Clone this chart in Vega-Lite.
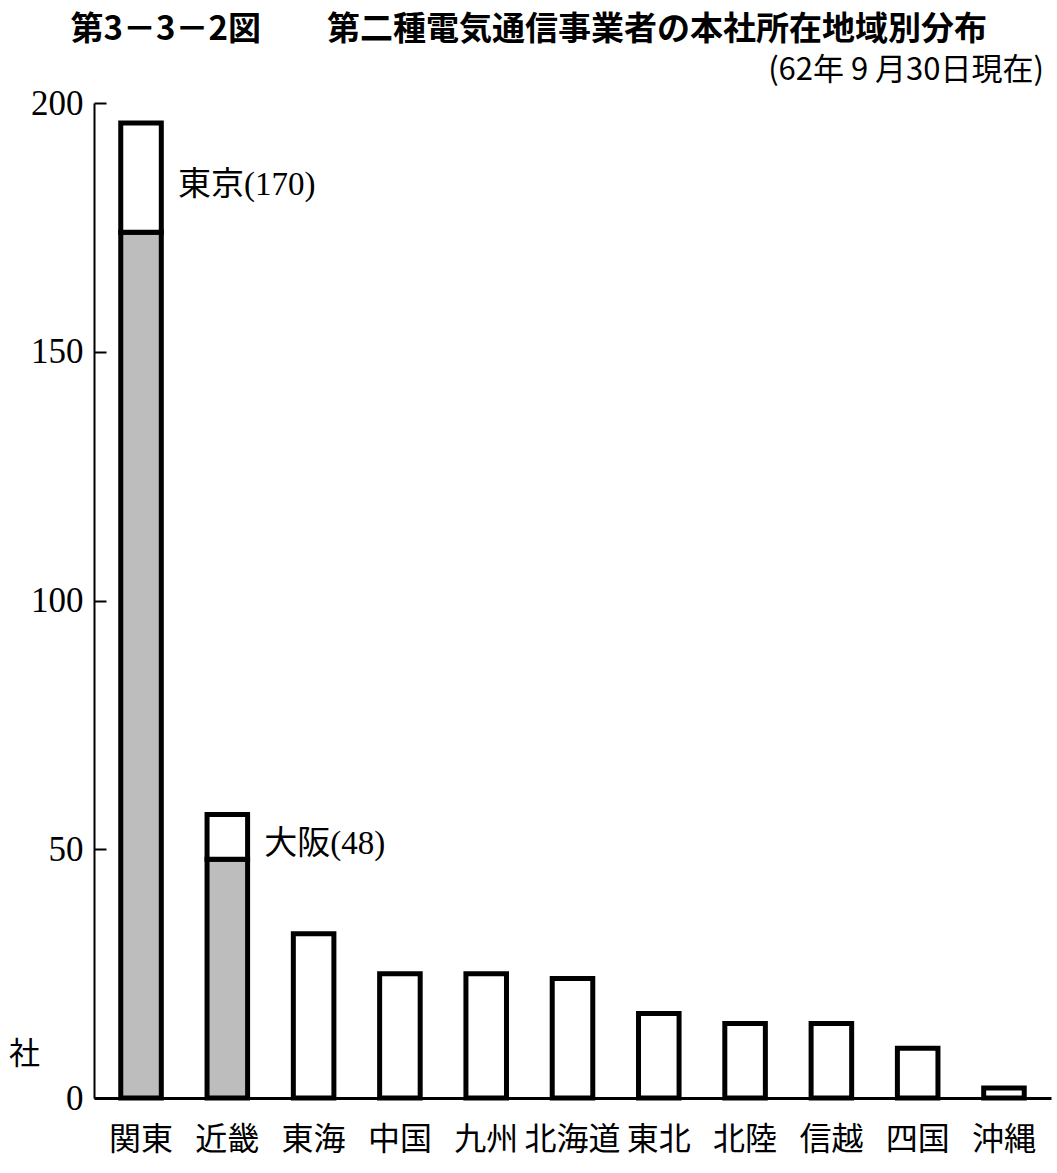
{
  "$schema": "https://vega.github.io/schema/vega-lite/v6.json",
  "width": 957,
  "height": 995,
  "autosize": {"type": "none"},
  "padding": {"left": 94, "top": 103, "right": 6, "bottom": 75},
  "background": "white",
  "title": {
    "text": "第3－3－2図　　第二種電気通信事業者の本社所在地域別分布　\u2002 \u2060",
    "subtitle": "(62年 9 月30日現在)",
    "anchor": "end",
    "frame": "group",
    "dx": -7,
    "offset": 0,
    "font": "Noto Sans CJK JP",
    "fontSize": 33,
    "fontWeight": "bold",
    "color": "black",
    "subtitleFont": "Noto Sans CJK JP",
    "subtitleFontSize": 31,
    "subtitleColor": "black",
    "subtitlePadding": 9
  },
  "data": {
    "values": [
      {"地域": "関東", "区分": "主要都市", "社数": 174, "注記": ""},
      {"地域": "関東", "区分": "その他", "社数": 22, "注記": "東京(170)"},
      {"地域": "近畿", "区分": "主要都市", "社数": 48, "注記": ""},
      {"地域": "近畿", "区分": "その他", "社数": 9, "注記": "大阪(48)"},
      {"地域": "東海", "区分": "その他", "社数": 33, "注記": ""},
      {"地域": "中国", "区分": "その他", "社数": 25, "注記": ""},
      {"地域": "九州", "区分": "その他", "社数": 25, "注記": ""},
      {"地域": "北海道", "区分": "その他", "社数": 24, "注記": ""},
      {"地域": "東北", "区分": "その他", "社数": 17, "注記": ""},
      {"地域": "北陸", "区分": "その他", "社数": 15, "注記": ""},
      {"地域": "信越", "区分": "その他", "社数": 15, "注記": ""},
      {"地域": "四国", "区分": "その他", "社数": 10, "注記": ""},
      {"地域": "沖縄", "区分": "その他", "社数": 2, "注記": ""}
    ]
  },
  "encoding": {
    "x": {
      "field": "地域",
      "type": "nominal",
      "sort": null,
      "scale": {"paddingInner": 0.53, "paddingOuter": 0.31},
      "axis": {
        "title": null,
        "labelAngle": 0,
        "ticks": false,
        "domainColor": "black",
        "domainWidth": 3,
        "labelFont": "Noto Sans CJK JP",
        "labelFontSize": 32,
        "labelColor": "black",
        "labelPadding": 26
      }
    }
  },
  "layer": [
    {
      "mark": {"type": "bar", "stroke": "black", "strokeWidth": 5},
      "encoding": {
        "y": {
          "field": "社数",
          "type": "quantitative",
          "stack": "zero",
          "scale": {"domain": [0, 200], "nice": false},
          "axis": {
            "values": [0, 50, 100, 150, 200],
            "grid": false,
            "domainColor": "black",
            "domainWidth": 2,
            "ticks": true,
            "tickSize": -12,
            "tickWidth": 2,
            "tickColor": "black",
            "labelFont": "Liberation Serif",
            "labelFontSize": 35,
            "labelColor": "black",
            "labelPadding": 23,
            "title": "社",
            "titleAngle": 0,
            "titleX": -70,
            "titleY": 951,
            "titleAlign": "center",
            "titleBaseline": "middle",
            "titleFont": "Noto Sans CJK JP",
            "titleFontSize": 31,
            "titleFontWeight": "normal",
            "titleColor": "black"
          }
        },
        "fill": {
          "field": "区分",
          "type": "nominal",
          "scale": {"domain": ["主要都市", "その他"], "range": ["#bdbdbd", "white"]},
          "legend": null
        },
        "order": {"field": "区分", "sort": "descending"}
      }
    },
    {
      "mark": {
        "type": "text",
        "align": "left",
        "baseline": "middle",
        "dx": 37,
        "dy": 7,
        "font": "'Liberation Serif', 'Noto Sans CJK JP'",
        "fontSize": 33,
        "color": "black"
      },
      "encoding": {
        "y": {"field": "社数", "type": "quantitative", "stack": "zero", "bandPosition": 0.5},
        "detail": {"field": "区分"},
        "order": {"field": "区分", "sort": "descending"},
        "text": {"field": "注記"}
      }
    }
  ],
  "config": {"view": {"stroke": null}}
}
